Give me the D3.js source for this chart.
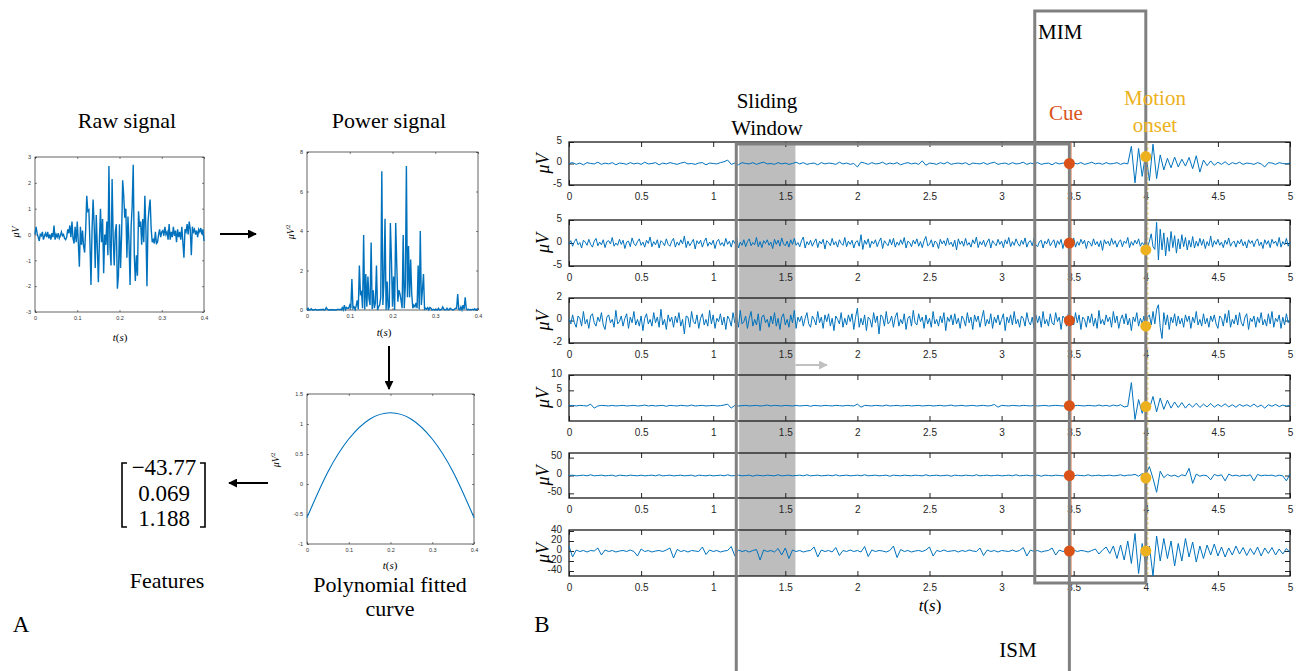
<!DOCTYPE html>
<html><head><meta charset="utf-8">
<script src="https://cdn.jsdelivr.net/npm/d3@7"></script>
<style>body{margin:0;background:#fff}svg{display:block}</style>
</head><body><svg id="c" width="1301" height="671"></svg>
<script>
// ---------------- DATA ----------------
const rawDt = 0.0025; // s
const rawSignal = [
0,0.3,0.05,-0.1,-0.25,0,-0.05,0.1,-0.2,-0.05,0.05,-0.1,0.1,-0.15,0,-0.2,0.05,-0.1,0.35,-0.2,
0,-0.1,0.05,-0.15,-0.05,0.1,-0.05,0,-0.15,-0.2,-0.1,0.2,0.05,0.35,-0.1,0.5,-0.15,-0.35,0.3,-0.3,
0.5,-0.3,-1.25,0.3,-0.4,0.15,-0.45,-0.7,0.2,1.5,0.9,0.95,-0.3,-1.95,0.15,1.35,0.4,-1.3,0.75,-0.5,
-1.85,-0.2,1.0,-0.3,0.6,-1.5,0,-0.4,0.5,-0.8,2.65,-0.5,-1.2,2.15,-0.1,-1.2,0.1,0.4,-2.1,-1.6,
0.4,-1.3,0,2.1,1.5,0.65,1.0,-0.9,0.7,-0.3,-1.95,0.3,1.1,2.7,-0.8,-1.8,-0.8,-1.6,0.9,0.3,
0.5,-0.4,0.6,-0.3,1.5,0.2,-2.0,0.5,1.0,1.35,0.2,-0.3,-0.2,-0.35,0.1,-0.35,-0.3,0,0.2,-0.1,
0.1,0.15,-0.05,0.3,0,0.1,-0.2,0.4,-0.2,0.1,-0.1,0.3,-0.05,0.15,-0.3,0.2,-0.1,0.1,-0.2,0.3,
-0.3,-0.9,0.2,0.1,0.4,0,0.5,0.2,-0.8,0.3,0.1,0.2,0,0.15,-0.1,0.2,0.1,0.25,0,0.2,
-0.25];
const powerSignal = rawSignal.map(v => v * v); // power = squared amplitude
const polyT = [0,0.05,0.1,0.15,0.2,0.25,0.3,0.35,0.4];
const polyV = [-0.56,0.2,0.75,1.08,1.188,1.08,0.75,0.2,-0.56];
const featureValues = ["\u221243.77","0.069","1.188"];
const aXTicks = [0,0.1,0.2,0.3,0.4];
const rawYTicks = [-3,-2,-1,0,1,2,3];
const powYTicks = [0,2,4,6,8];
const polyYTicks = [-1,-0.5,0,0.5,1,1.5];

const bXTicks = [0,0.5,1,1.5,2,2.5,3,3.5,4,4.5,5];
// sample step of each row (s); rows 1-4 in 0.1 uV, rows 5-6 in uV
const rowDt = [0.025,0.0125,0.0125,0.025,0.025,0.025];
const row1 = [
0,2,-2,1,-3,2,0,-1,3,-2,1,-1,2,-3,1,0,-2,2,-1,1,
-2,3,-1,0,2,-3,1,-1,2,0,-2,1,3,-1,0,-2,1,2,-3,1,
0,-1,2,4,8,-2,1,-3,2,0,-1,2,-2,1,3,-1,0,-2,2,-1,
1,-2,0,3,-1,2,-2,0,1,-3,2,-1,1,0,-2,3,-1,1,-2,0,
-8,3,1,-2,2,-1,0,3,-2,1,-1,2,-3,0,2,-1,1,-2,6,-4,
1,0,-2,2,-1,3,-2,0,1,-1,2,-3,1,0,-1,2,-2,1,3,-2,
0,1,-2,2,-1,0,3,-2,1,-1,2,-2,0,1,-3,2,-1,1,0,-2,
1,-1,2,-2,0,3,-1,1,-2,2,-1,0,2,-2,1,-1,40,-45,35,-30,
25,-40,45,-35,20,-15,12,-10,15,-8,10,-6,14,-12,18,-20,8,-5,6,-4,
3,-2,4,-3,2,-1,3,-2,1,0,-2,2,-1,-8,2,1,-2,2,0,-1,
1];
const row2 = [
-2,5,-7,3,9,-4,1,-11,6,2,-5,8,-3,-9,4,10,-6,2,-4,7,
-10,3,5,-2,12,-7,0,-5,8,-3,6,-12,2,4,-8,11,-1,-6,3,9,
-5,2,-9,6,-1,13,-8,3,-4,7,-11,5,1,-6,9,-3,-7,4,10,-9,
2,-5,7,-2,15,-10,4,-6,1,8,-13,5,-2,6,-9,3,11,-7,2,-4,
6,-12,3,8,-5,1,-7,10,-3,4,-9,6,-1,14,-11,2,-5,7,-8,3,
9,-6,1,-4,12,-8,3,-10,5,-1,7,-5,2,-12,8,-3,6,-7,11,-2,
-6,4,-9,7,-3,10,-5,1,-8,5,13,-11,3,-4,6,-7,2,9,-10,4,
-2,8,-13,5,1,-6,10,-4,3,-9,7,-1,-5,12,-8,4,-3,6,-11,2,
5,-7,18,-14,6,-3,9,-10,4,-2,7,-8,3,11,-12,5,-1,-6,8,-4,
10,-9,2,-5,7,-3,12,-11,4,1,-8,6,-2,9,-7,3,-10,5,14,-6,
-3,7,-9,4,1,-12,8,-2,5,-6,11,-4,2,-8,6,-15,9,-3,4,-7,
10,-5,1,-9,7,-2,13,-10,3,-4,6,-8,2,9,-11,5,-1,-6,8,-3,
4,-10,7,-2,12,-8,3,-5,9,-1,-7,6,-3,11,-9,2,5,-6,10,-4,
-8,3,6,-11,4,-2,9,-6,1,7,-10,5,-3,8,-12,4,2,-7,6,-1,
11,-9,3,-5,8,-2,6,-12,4,1,-7,9,-4,3,-8,5,-16,7,-2,4,
-6,10,-3,5,-9,2,7,-8,4,-1,12,-10,3,-5,6,-2,9,-7,1,-4,
6,-9,4,20,-8,-14,45,-37,30,-15,22,-28,12,-18,25,-10,16,-22,9,-13,
18,-8,12,-15,6,-9,14,-11,4,-7,10,-5,8,-12,3,-6,15,-9,5,-3,
8,-5,2,-10,6,-3,11,-7,1,4,-9,5,-2,8,-6,3,-11,7,-1,5,
-8,4,9,-6,2,-12,7,-3,5,-10,8,-1,4,-7,12,-9,3,-4,10,-7,
2];
const row3 = [
1,-3,5,-2,-6,4,2,-5,8,-3,1,-7,4,6,-2,-5,3,-1,7,-4,
-8,3,5,-2,1,-6,9,-3,-1,4,-5,2,6,-7,3,-2,8,-4,1,-5,
4,-9,2,6,-3,1,-5,7,-2,3,-6,10,-4,1,-8,5,-1,3,-6,4,
-2,7,-5,1,-12,4,3,-6,8,-1,-3,5,-7,2,6,-4,1,-5,9,-3,
5,-7,2,-1,6,-4,3,-8,4,1,-5,7,-2,3,-6,9,-3,-1,4,-7,
2,8,-5,1,-4,6,-9,3,5,-2,1,-6,4,-3,7,-5,2,-8,3,6,
-4,1,-6,5,-2,9,-7,3,-1,4,-5,2,7,-3,-6,4,1,-4,8,-2,
3,-7,5,-1,6,-5,2,-9,4,1,-3,7,-6,2,-4,5,-1,6,-8,3,
11,-6,2,-4,5,-9,3,1,-6,7,-2,4,-12,5,3,-5,8,-3,-1,4,
-6,3,7,-5,1,-3,6,-8,2,4,-5,9,-2,-4,6,-1,3,-7,5,-3,
2,-6,8,-3,1,-5,4,-2,7,-9,3,-1,5,-4,6,-3,2,-7,4,1,
-5,7,-2,3,-8,5,-1,4,-6,2,9,-5,1,-3,6,-7,3,-2,5,-4,
1,6,-9,3,-2,5,-4,8,-3,1,-6,4,2,-5,7,-1,-4,3,-7,5,
-2,4,-6,8,-3,1,-5,6,-2,-4,7,-1,3,-8,4,2,-5,6,-3,1,
-4,7,-2,5,-8,3,1,-6,4,-2,6,-5,2,-7,9,-3,1,-4,5,-1,
3,-6,8,-2,4,-7,1,5,-3,6,-4,2,-9,3,-1,7,-5,2,-3,4,
-6,3,5,-4,8,-3,10,14,-6,-16,7,-4,5,-8,3,-2,6,-5,4,-3,
2,-6,5,-1,4,-7,3,-2,8,-4,1,-5,6,-3,2,-6,4,-1,5,-3,
-7,4,2,-5,6,-2,9,-6,1,-3,5,-4,7,-2,-5,3,6,-8,2,-1,
4,-6,3,-2,7,-4,1,-5,6,-3,8,-6,2,-1,5,-7,3,-4,6,-2,
1];
const row4 = [
0,1,-1,1,0,-1,5,-8,-1,1,0,-1,1,-1,0,1,-1,0,1,-1,
0,2,-1,1,-1,0,1,-2,1,0,-1,1,0,-1,2,-1,0,1,-1,0,
1,-1,0,2,5,-8,1,-1,0,1,-1,0,1,-1,0,2,-1,1,0,-1,
1,0,-1,1,-1,0,1,-2,1,0,-1,1,0,-1,1,0,-1,1,0,-1,
5,-5,1,0,-1,1,0,-1,2,-1,0,1,-1,0,1,-1,0,1,-1,0,
1,-1,0,1,-1,0,2,-1,0,1,-1,0,1,-1,0,1,-1,0,4,-5,
1,0,-1,1,0,-1,1,0,-1,1,-1,0,1,-1,0,1,0,-1,1,0,
-1,1,0,-1,1,0,-1,2,-1,1,-2,2,-1,3,-4,-2,75,-45,20,-25,
15,-10,30,-20,25,-12,18,-8,12,-6,10,-8,6,-5,8,-6,5,-4,7,-5,
4,-3,6,-4,3,-5,4,-2,3,-3,5,-4,2,-8,3,-2,4,-3,2,-2,
1];
const row5 = [
0,1,-1,0,1,-1,2,-1,0,1,-1,0,1,-2,1,0,-1,1,0,-1,
1,-1,0,1,-1,2,-1,0,1,-1,0,1,-1,0,1,-2,1,0,-1,1,
-1,0,1,-1,2,-1,0,1,-1,0,1,-2,1,0,-1,1,0,-1,2,-1,
0,1,-1,0,1,-1,2,-1,0,1,-1,0,1,-1,2,-1,0,1,-1,0,
1,-1,2,-1,0,1,-1,0,1,-2,1,0,-1,1,0,-1,1,0,-1,2,
-1,0,1,-1,0,1,-2,1,0,-1,1,0,-1,2,-1,0,1,-1,0,1,
-1,0,1,-1,2,-1,0,1,-1,0,1,-2,1,0,-1,1,0,-1,1,0,
-1,1,0,-1,2,-1,0,1,-1,0,1,-1,0,2,-1,1,1,3,-2,5,
3,25,-8,-47,12,-6,3,-2,1,-4,2,-1,20,-22,4,-2,1,-1,-12,3,
-1,2,-15,4,-1,1,-2,1,-1,2,-15,3,-1,1,0,1,-2,1,-1,-15,
4];
const row6 = [
10,-12,2,-1,1,-2,1,0,6,-8,2,-1,1,-2,0,1,-1,2,-1,-10,
4,-1,1,-2,0,1,-1,2,6,-14,3,-1,1,-2,1,0,-1,8,-7,2,
-1,1,-2,0,1,9,-10,2,-1,1,-2,1,3,-18,2,-1,1,-2,5,-8,
6,-15,2,-1,1,-2,0,1,8,-12,2,-1,1,-2,7,-9,1,-1,2,-1,
1,-2,9,-11,2,-1,1,0,-2,1,10,-13,3,-1,1,-2,0,1,-1,2,
8,-10,1,-1,2,-1,0,1,-2,1,-1,2,0,-1,6,-9,2,-1,1,-2,
1,0,-1,2,-1,1,7,-10,2,-1,1,-2,0,1,6,-8,2,-1,1,-2,
2,-1,1,0,-2,1,4,-6,2,8,-5,10,-15,12,-18,20,-25,35,-45,15,
-30,10,-50,30,-20,25,-15,20,-30,15,-20,25,-12,18,-22,10,-15,12,-8,14,
-10,8,-12,6,-8,10,-6,7,-9,5,-7,8,-10,6,-5,7,-8,4,-6,5,
-3];
const rows = [row1,row2,row3,row4,row5,row6];
const rowUnit = [0.1,0.1,0.1,0.1,1,1];
const rowDomains = [[-5,5],[-5,5],[-2,2],[-5,10],[-63,63],[-50,42]];
const rowYTicks = [[-5,0,5],[-5,0,5],[-2,0,2],[0,5,10],[-50,0,50],[-40,-20,0,20,40]];
const cueTime = 3.47, onsetTime = 4.0;
const cueVals = [0,0,0,0,0,0];
const onsetVals = [1.6,-1.5,-0.5,-0.3,-7,0];
const windowRange = [1.18,1.57];
const ismRange = [1.16,3.47];
const mimRange = [3.23,4.0];

// ---------------- STYLE / LAYOUT ----------------
const BLUE = "#0072BD", ORANGE = "#D95319", YELLOW = "#EDB120", GREY = "#808080";
const SERIF = "'Liberation Serif','Times New Roman','DejaVu Serif',serif";
const SANS = "'Liberation Sans',Arial,sans-serif";
const svg = d3.select("#c");

function drawAxes(g, xs, ys, xt, yt, o) {
  const [xl, xr] = xs.range(), [yb, ytop] = ys.range();
  const fmt = d => String(d);
  const axes = [
    g.append("g").attr("transform", `translate(0,${yb})`).call(d3.axisBottom(xs).tickValues(xt).tickSize(-o.tl).tickPadding(o.xpad).tickFormat(fmt)),
    g.append("g").attr("transform", `translate(0,${ytop})`).call(d3.axisTop(xs).tickValues(xt).tickSize(-o.tl).tickFormat("")),
    g.append("g").attr("transform", `translate(${xl},0)`).call(d3.axisLeft(ys).tickValues(yt).tickSize(-o.tl).tickPadding(o.ypad).tickFormat(fmt)),
    g.append("g").attr("transform", `translate(${xr},0)`).call(d3.axisRight(ys).tickValues(yt).tickSize(-o.tl).tickFormat(""))
  ];
  axes.forEach(a => {
    a.select(".domain").remove();
    a.selectAll(".tick line").attr("stroke", o.tick).attr("stroke-width", o.tw);
    a.selectAll("text").attr("font-family", SANS).attr("font-size", o.fs).attr("fill", o.tc);
  });
  axes[2].selectAll("text").attr("dy", o.ydy);
  g.append("rect").attr("x", xl).attr("y", ytop).attr("width", xr - xl).attr("height", yb - ytop)
    .attr("fill", "none").attr("stroke", o.box).attr("stroke-width", o.bw);
}

function mathLabel(g, x, y, size, parts, rotate) {
  const t = g.append("text").attr("x", x).attr("y", y).style("font-family", SERIF)
    .attr("font-size", size).attr("text-anchor", "middle").attr("dominant-baseline", "middle");
  if (rotate) t.attr("transform", `rotate(-90,${x},${y})`);
  parts.forEach(p => {
    const s = t.append("tspan").text(p[0]);
    if (p[1]) s.attr("font-style", "italic");
    if (p[2]) s.attr("baseline-shift", "super").attr("font-size", size * 0.65);
  });
  return t;
}
const uV = [["\u03bc", true], ["V", true]];
const uV2 = [["\u03bc", true], ["V", true], ["2", false, true]];
const ts = [["t", true], ["(", false], ["s", true], [")", false]];

function text(x, y, s, size, color, anchor) {
  return svg.append("text").attr("x", x).attr("y", y).style("font-family", SERIF).attr("font-size", size)
    .attr("fill", color || "#000").attr("text-anchor", anchor || "middle").attr("dominant-baseline", "middle").text(s);
}

const defs = svg.append("defs");
function marker(id, color) {
  defs.append("marker").attr("id", id).attr("viewBox", "0 0 10 10").attr("refX", 9).attr("refY", 5)
    .attr("markerWidth", 4.5).attr("markerHeight", 4.5).attr("orient", "auto").attr("markerUnits", "strokeWidth")
    .append("path").attr("d", "M0,0 L10,5 L0,10 z").attr("fill", color);
}
marker("ab", "#000"); marker("ag", "#c0c0c0");
function arrow(x1, y1, x2, y2, color, id, w) {
  svg.append("line").attr("x1", x1).attr("y1", y1).attr("x2", x2).attr("y2", y2)
    .attr("stroke", color).attr("stroke-width", w).attr("marker-end", `url(#${id})`);
}

// ---------------- PANEL A ----------------
const aOpt = {tl: 2, xpad: 4, ypad: 4, ydy: "0.32em", fs: 5.5, tc: "#333", tick: "#333", tw: 0.6, box: "#222", bw: 0.7};
const gA = svg.append("g");
const rawX = d3.scaleLinear([0, 0.4], [35, 204]);
const rawY = d3.scaleLinear([-3, 3], [312, 157]);
drawAxes(gA, rawX, rawY, aXTicks, rawYTicks, aOpt);
gA.append("path").datum(rawSignal).attr("fill", "none").attr("stroke", BLUE).attr("stroke-width", 1.4)
  .attr("d", d3.line().x((d, i) => rawX(i * rawDt)).y(d => rawY(d)));

const powX = d3.scaleLinear([0, 0.4], [307, 478]);
const powY = d3.scaleLinear([0, 8], [310, 152]);
drawAxes(gA, powX, powY, aXTicks, powYTicks, aOpt);
gA.append("path").datum(powerSignal).attr("fill", "none").attr("stroke", BLUE).attr("stroke-width", 1.4)
  .attr("d", d3.line().x((d, i) => powX(i * rawDt)).y(d => powY(d)));

const polX = d3.scaleLinear([0, 0.4], [307, 474]);
const polY = d3.scaleLinear([-1, 1.5], [544, 394]);
drawAxes(gA, polX, polY, aXTicks, polyYTicks, aOpt);
gA.append("path").datum(polyT.map((t, i) => [t, polyV[i]])).attr("fill", "none").attr("stroke", BLUE).attr("stroke-width", 1.1)
  .attr("d", d3.line().x(d => polX(d[0])).y(d => polY(d[1])).curve(d3.curveNatural));

text(127, 123, "Raw signal", 22);
text(389, 123, "Power signal", 22);
text(390, 587, "Polynomial fitted", 22);
text(390, 611, "curve", 22);
text(167, 583, "Features", 22);
text(21, 627, "A", 23);
mathLabel(gA, 17, 232, 10, uV, true);
mathLabel(gA, 292, 232, 10, uV2, true);
mathLabel(gA, 277, 460, 10, uV2, true);
mathLabel(gA, 120, 338, 11, ts);
mathLabel(gA, 384, 333, 11, ts);
mathLabel(gA, 390, 566, 11, ts);

arrow(220, 234, 256, 234, "#000", "ab", 2);
arrow(389, 346, 389, 389, "#000", "ab", 2);
arrow(268, 483, 229, 483, "#000", "ab", 2);

// features matrix
const mx0 = 122, mx1 = 205, my0 = 463, my1 = 527;
svg.append("path").attr("d", `M${mx0 + 5},${my0} H${mx0} V${my1} H${mx0 + 5}`).attr("fill", "none").attr("stroke", "#000").attr("stroke-width", 1.6);
svg.append("path").attr("d", `M${mx1 - 5},${my0} H${mx1} V${my1} H${mx1 - 5}`).attr("fill", "none").attr("stroke", "#000").attr("stroke-width", 1.6);
featureValues.forEach((v, i) => text(164, 470 + i * 25.5, v, 23, "#000"));

// ---------------- PANEL B ----------------
const bx = d3.scaleLinear([0, 5], [569, 1290]);
const rowBox = [[142, 185], [220, 266], [298, 343], [375, 421], [453, 498], [530, 576]];
const gB = svg.append("g");
gB.append("rect").attr("x", bx(windowRange[0])).attr("y", 143).attr("width", bx(windowRange[1]) - bx(windowRange[0]))
  .attr("height", 576 - 143).attr("fill", "#bdbdbd");

const bOpt = {tl: 5, xpad: 8, ypad: 7, ydy: "0.1em", fs: 10, tc: "#262626", tick: "#262626", tw: 1, box: "#1a1a1a", bw: 1.3};
const rowScales = [];
rows.forEach((r, k) => {
  const [t, b] = rowBox[k];
  const ys = d3.scaleLinear(rowDomains[k], [b, t]);
  rowScales.push(ys);
  drawAxes(gB, bx, ys, bXTicks, rowYTicks[k], bOpt);
  gB.append("path").datum(r).attr("fill", "none").attr("stroke", BLUE).attr("stroke-width", 1)
    .attr("d", d3.line().x((d, i) => bx(i * rowDt[k])).y(d => ys(d * rowUnit[k])));
  mathLabel(gB, 545, (t + b) / 2, 18, uV, true);
});
mathLabel(gB, 930, 607, 17, ts);

gB.append("line").attr("x1", bx(cueTime) + 2).attr("x2", bx(cueTime) + 2).attr("y1", 142).attr("y2", 576)
  .attr("stroke", ORANGE).attr("stroke-width", 1).attr("stroke-opacity", 0.5);
gB.append("line").attr("x1", bx(onsetTime) + 2).attr("x2", bx(onsetTime) + 2).attr("y1", 142).attr("y2", 576)
  .attr("stroke", YELLOW).attr("stroke-width", 1).attr("stroke-dasharray", "3,2").attr("stroke-opacity", 0.7);

gB.append("path").attr("d", `M${bx(ismRange[0])},672 V144 H${bx(ismRange[1])} V672`)
  .attr("fill", "none").attr("stroke", GREY).attr("stroke-width", 3);
gB.append("rect").attr("x", bx(mimRange[0])).attr("y", 11).attr("width", bx(mimRange[1]) - bx(mimRange[0])).attr("height", 583 - 11)
  .attr("fill", "none").attr("stroke", GREY).attr("stroke-width", 3);

rowScales.forEach((ys, k) => {
  gB.append("circle").attr("cx", bx(cueTime)).attr("cy", ys(cueVals[k])).attr("r", 5.5).attr("fill", ORANGE);
  gB.append("circle").attr("cx", bx(onsetTime)).attr("cy", ys(onsetVals[k])).attr("r", 5.5).attr("fill", YELLOW);
});

arrow(bx(windowRange[1]), 365, 827, 365, "#c0c0c0", "ag", 2);

text(767, 103, "Sliding", 21);
text(767, 130, "Window", 21);
text(1038, 34, "MIM", 21, "#000", "start");
text(1066, 115, "Cue", 21, ORANGE);
text(1155, 100, "Motion", 21, YELLOW);
text(1155, 127, "onset", 21, YELLOW);
text(1018, 652, "ISM", 21);
text(542, 627, "B", 23);
</script>
</body></html>
